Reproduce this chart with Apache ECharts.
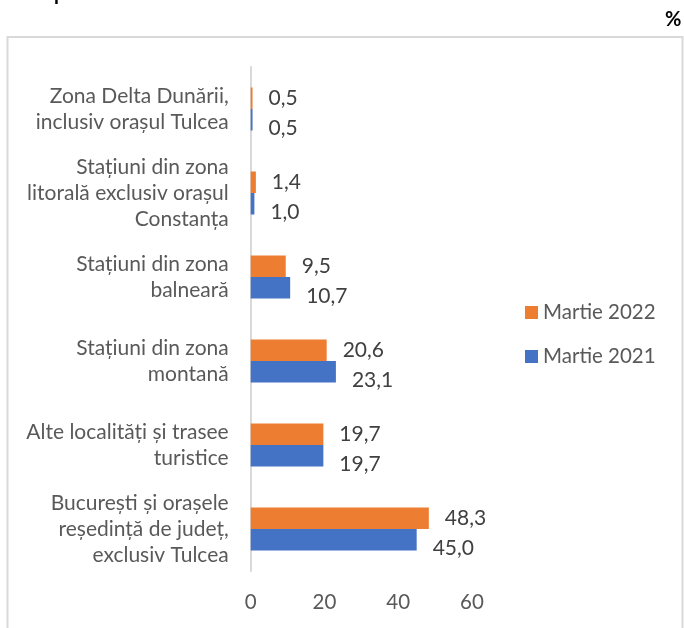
<!DOCTYPE html>
<html>
<head>
<meta charset="utf-8">
<script src="https://cdn.jsdelivr.net/npm/echarts@6/dist/echarts.min.js"></script>
<style>
html,body{margin:0;padding:0;background:#fff;}
#main{width:684px;height:628px;}
</style>
</head>
<body>
<div id="main"></div>
<script>
var categories = [
  'Zona Delta Dunării,\ninclusiv orașul Tulcea',
  'Stațiuni din zona\nlitorală exclusiv orașul\nConstanța',
  'Stațiuni din zona\nbalneară',
  'Stațiuni din zona\nmontană',
  'Alte localități și trasee\nturistice',
  'București și orașele\nreședință de județ,\nexclusiv Tulcea'
];
var martie2022 = [0.5, 1.4, 9.5, 20.6, 19.7, 48.3];
var martie2021 = [0.5, 1.0, 10.7, 23.1, 19.7, 45.0];
var seriesNames = ['Martie 2022', 'Martie 2021'];
var xTicks = [0, 20, 40, 60];

var FONT = 'Lato';
function fmt(p){ return p.value.toFixed(1).replace('.', ','); }

var chart = echarts.init(document.getElementById('main'), null, {renderer:'canvas'});
chart.setOption({
  animation: false,
  textStyle: {fontFamily: FONT},
  graphic: [
    {type:'rect', shape:{x:7.5, y:37, width:675, height:620}, style:{fill:'none', stroke:'#d9d9d9', lineWidth:2}, silent:true},
    {type:'text', left:665, top:10, style:{text:'%', font:'bold 20px ' + FONT, fill:'#000'}},
    {type:'text', left:54, top:-16, style:{text:'p', font:'bold 20px ' + FONT, fill:'#000'}}
  ],
  grid: {left:250.7, right:212, top:67, bottom:57, containLabel:false},
  legend: {
    orient:'vertical', left:520, top:297,
    itemWidth:13, itemHeight:13, itemGap:23,
    icon:'rect',
    textStyle:{fontFamily:FONT, fontSize:20.5, color:'#595959'},
    data: seriesNames
  },
  xAxis: {
    type:'value', min:xTicks[0], max:xTicks[xTicks.length-1], interval:20,
    axisLine:{show:false}, axisTick:{show:false}, splitLine:{show:false},
    axisLabel:{fontFamily:FONT, fontSize:20.5, color:'#595959', margin:21}
  },
  yAxis: {
    type:'category', inverse:true, data:categories,
    axisLine:{show:true, lineStyle:{color:'#d9d9d9', width:2}},
    axisTick:{show:false},
    axisLabel:{fontFamily:FONT, fontSize:21, color:'#595959', margin:22, lineHeight:26, align:'right'}
  },
  series: [
    {name:seriesNames[0], type:'bar', data:martie2022, barWidth:21.5, barGap:'0%',
     itemStyle:{color:'#ED7D31'},
     label:{show:true, position:'right', distance:16, formatter:fmt, fontFamily:FONT, fontSize:21, color:'#404040'}},
    {name:seriesNames[1], type:'bar', data:martie2021, barWidth:21.5, barGap:'0%',
     itemStyle:{color:'#4472C4'},
     label:{show:true, position:'right', distance:16, offset:[0,8], formatter:fmt, fontFamily:FONT, fontSize:21, color:'#404040'}}
  ]
});
</script>
</body>
</html>
